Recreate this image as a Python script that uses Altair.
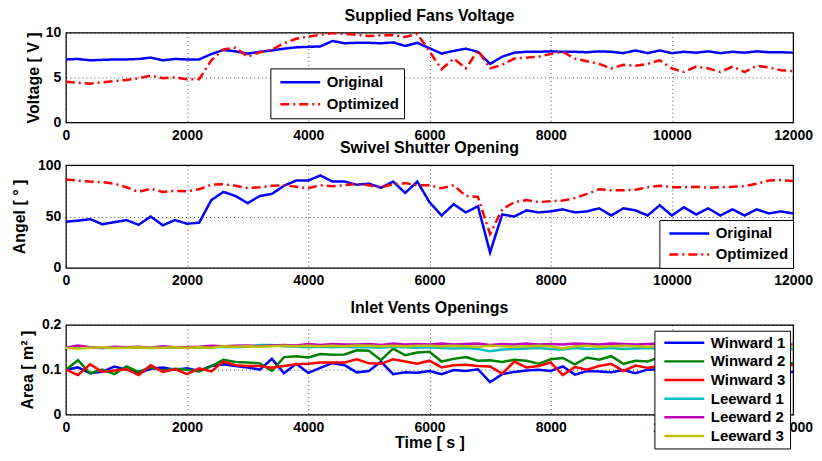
import altair as alt
import pandas as pd

# ---------------- data ----------------
time_s = list(range(0, 12001, 200))  # sampling instants [s]
x_ticks = [0, 2000, 4000, 6000, 8000, 10000, 12000]

fan_original = [
    7.0, 7.05, 6.9, 6.95, 7.0, 7.0, 7.05, 7.2, 6.9, 7.05,
    7.0, 7.0, 7.6, 8.05, 7.9, 7.65, 7.85, 8.0, 8.2, 8.35,
    8.4, 8.45, 9.05, 8.8, 8.85, 8.85, 8.8, 8.9, 8.5, 8.85,
    8.25, 7.65, 7.95, 8.2, 7.85, 6.5, 7.3, 7.75, 7.85, 7.85,
    7.9, 7.85, 7.85, 7.8, 7.9, 7.85, 7.7, 8.0, 7.7, 8.0,
    7.7, 7.85, 7.75, 7.9, 7.7, 7.85, 7.75, 7.9, 7.8, 7.8,
    7.75]
fan_optimized = [
    4.5, 4.4, 4.3, 4.45, 4.6, 4.7, 4.9, 5.2, 4.9, 5.0,
    4.8, 4.8, 6.9, 8.1, 8.3, 7.3, 7.8, 8.1, 8.8, 9.3,
    9.55, 9.75, 9.95, 9.85, 9.75, 9.6, 9.7, 9.7, 9.5, 9.85,
    7.9, 5.9, 7.1, 6.0, 8.0, 6.0, 6.4, 7.1, 7.2, 7.3,
    7.6, 7.85, 7.1, 6.8, 6.5, 6.0, 6.4, 6.3, 6.5, 6.9,
    6.0, 5.6, 6.2, 6.0, 5.6, 6.2, 5.6, 6.3, 6.1, 5.8,
    5.7]

shutter_original = [
    45, 46, 47.5, 42.5, 44.5, 46.5, 42, 50, 41.5, 46.5,
    43, 44, 66, 74, 70, 63, 70, 72, 80, 85,
    85, 90, 84, 84, 81, 82, 78, 84, 73, 84,
    64, 51, 62, 54, 60, 15, 52, 50, 56, 54,
    55, 57, 54, 55, 58, 51, 58, 56, 51, 61,
    51, 59, 52, 58, 51, 57, 51, 57, 53, 55,
    53]
shutter_optimized = [
    86, 85, 84, 83.5, 82, 78.5, 74, 77, 74, 75,
    74.5, 76.5, 81, 81.5, 80, 77.7, 78.5, 80, 80.5, 79,
    77.5, 80.5, 79.5, 80.5, 81.5, 80.5, 78.5, 81.5, 82.5, 80.5,
    80.5, 77.5, 80.5, 70, 69, 33, 57, 64, 66, 64,
    65, 65.5, 68, 72, 76.5, 75.5, 75.5, 76, 78.5, 80,
    78.5, 78.5, 79, 78, 78.5, 79, 79.5, 82, 85, 85.5,
    84.5]

winward_1 = [
    0.100, 0.105, 0.092, 0.095, 0.107, 0.100, 0.092, 0.102, 0.105, 0.100,
    0.103, 0.097, 0.108, 0.112, 0.108, 0.105, 0.100, 0.124, 0.092, 0.113,
    0.093, 0.104, 0.115, 0.110, 0.094, 0.097, 0.118, 0.090, 0.094, 0.093,
    0.097, 0.090, 0.099, 0.097, 0.101, 0.072, 0.090, 0.095, 0.098, 0.100,
    0.097, 0.107, 0.089, 0.097, 0.096, 0.094, 0.099, 0.092, 0.100, 0.101,
    0.097, 0.102, 0.096, 0.100, 0.098, 0.103, 0.096, 0.100, 0.098, 0.096,
    0.095]
winward_2 = [
    0.100, 0.121, 0.092, 0.100, 0.090, 0.107, 0.095, 0.105, 0.098, 0.102,
    0.100, 0.096, 0.108, 0.122, 0.117, 0.116, 0.114, 0.097, 0.128, 0.130,
    0.127, 0.135, 0.133, 0.134, 0.143, 0.142, 0.121, 0.147, 0.132, 0.138,
    0.140, 0.118, 0.124, 0.128, 0.120, 0.121, 0.117, 0.122, 0.120, 0.113,
    0.123, 0.126, 0.112, 0.127, 0.122, 0.130, 0.113, 0.120, 0.118, 0.128,
    0.120, 0.125, 0.118, 0.122, 0.116, 0.124, 0.118, 0.121, 0.117, 0.115,
    0.114]
winward_3 = [
    0.100, 0.088, 0.112, 0.095, 0.098, 0.101, 0.088, 0.110, 0.095, 0.101,
    0.090, 0.103, 0.096, 0.118, 0.110, 0.108, 0.108, 0.104, 0.108, 0.112,
    0.113, 0.116, 0.116, 0.116, 0.123, 0.114, 0.113, 0.123, 0.118, 0.113,
    0.120, 0.105, 0.110, 0.111, 0.108, 0.107, 0.091, 0.118, 0.105, 0.108,
    0.116, 0.088, 0.106, 0.100, 0.108, 0.113, 0.097, 0.109, 0.104, 0.108,
    0.112, 0.105, 0.110, 0.106, 0.112, 0.107, 0.110, 0.105, 0.111, 0.109,
    0.110]
leeward_1 = [
    0.150, 0.149, 0.150, 0.148, 0.150, 0.149, 0.150, 0.148, 0.150, 0.149,
    0.150, 0.149, 0.150, 0.151, 0.150, 0.151, 0.155, 0.155, 0.152, 0.151,
    0.150, 0.151, 0.150, 0.151, 0.150, 0.150, 0.149, 0.151, 0.150, 0.149,
    0.150, 0.148, 0.147, 0.148, 0.146, 0.141, 0.145, 0.146, 0.147, 0.148,
    0.146, 0.145, 0.148, 0.146, 0.147, 0.148, 0.146, 0.147, 0.148, 0.146,
    0.147, 0.148, 0.147, 0.146, 0.148, 0.147, 0.146, 0.147, 0.148, 0.147,
    0.146]
leeward_2 = [
    0.149, 0.154, 0.150, 0.148, 0.151, 0.150, 0.151, 0.149, 0.152, 0.150,
    0.150, 0.151, 0.153, 0.152, 0.153, 0.154, 0.152, 0.154, 0.155, 0.154,
    0.157, 0.155, 0.157, 0.156, 0.156, 0.157, 0.155, 0.158, 0.156, 0.157,
    0.156, 0.158, 0.156, 0.157, 0.158, 0.155, 0.157, 0.156, 0.158, 0.156,
    0.157, 0.156, 0.158, 0.157, 0.156, 0.158, 0.157, 0.156, 0.157, 0.158,
    0.157, 0.156, 0.157, 0.158, 0.156, 0.157, 0.156, 0.157, 0.158, 0.157,
    0.156]
leeward_3 = [
    0.148, 0.147, 0.149, 0.150, 0.148, 0.149, 0.150, 0.148, 0.149, 0.150,
    0.148, 0.150, 0.149, 0.152, 0.151, 0.152, 0.151, 0.152, 0.153, 0.152,
    0.153, 0.152, 0.153, 0.152, 0.154, 0.153, 0.152, 0.153, 0.152, 0.153,
    0.153, 0.152, 0.153, 0.152, 0.151, 0.153, 0.152, 0.151, 0.152, 0.153,
    0.152, 0.147, 0.152, 0.153, 0.151, 0.152, 0.153, 0.152, 0.151, 0.152,
    0.153, 0.152, 0.151, 0.152, 0.153, 0.152, 0.151, 0.152, 0.153, 0.152,
    0.152]

two_series = ["Original", "Optimized"]
vent_series = ["Winward 1", "Winward 2", "Winward 3", "Leeward 1", "Leeward 2", "Leeward 3"]
vent_colors = ["#0000ff", "#008000", "#ff0000", "#00bfbf", "#bf00bf", "#bfbf00"]

# ---------------- tables ----------------
n = len(time_s)
df_fan = pd.DataFrame({"t": time_s * 2, "v": fan_original + fan_optimized,
                       "s": ["Original"] * n + ["Optimized"] * n})
df_shutter = pd.DataFrame({"t": time_s * 2, "v": shutter_original + shutter_optimized,
                           "s": ["Original"] * n + ["Optimized"] * n})
vent_values = [winward_1, winward_2, winward_3, leeward_1, leeward_2, leeward_3]
df_vent = pd.DataFrame({
    "t": time_s * 6,
    "v": sum(vent_values, []),
    "s": sum([[name] * n for name in vent_series], []),
    "o": sum([[i] * n for i in range(6)], []),
})

FONT = "Liberation Sans"
W = 729

xscale = alt.Scale(domain=[0, 12000], nice=False)


def xaxis(title=None, **kw):
    return alt.Axis(values=x_ticks, format="d", title=title, labelFlush=False,
                    labelPadding=6, **kw)


def two_color(legend):
    return alt.Color("s:N", scale=alt.Scale(domain=two_series, range=["#0000ff", "#ff0000"]),
                     legend=legend, sort=two_series)


def two_dash(legend):
    return alt.StrokeDash("s:N", scale=alt.Scale(domain=two_series, range=[[1, 0], [9, 4, 2, 4]]),
                          legend=legend, sort=two_series)


leg1 = alt.Legend(title=None, orient="none", legendX=205, legendY=36, clipHeight=20, rowPadding=2)
p1 = alt.Chart(df_fan, title=alt.TitleParams("Supplied Fans Voltage", offset=2)).mark_line(
    strokeWidth=2.5, clip=True).encode(
    x=alt.X("t:Q", scale=xscale, axis=xaxis()),
    y=alt.Y("v:Q", scale=alt.Scale(domain=[0, 10], nice=False),
            axis=alt.Axis(values=[0, 5, 10], title="Voltage [ V ]", titlePadding=4)),
    color=two_color(leg1),
    strokeDash=two_dash(leg1),
).properties(width=W, height=90)

leg2 = alt.Legend(title=None, orient="bottom-right", offset=0, clipHeight=19, rowPadding=2)
p2 = alt.Chart(df_shutter, title=alt.TitleParams("Swivel Shutter Opening", offset=2)).mark_line(
    strokeWidth=2.5, clip=True).encode(
    x=alt.X("t:Q", scale=xscale, axis=xaxis(title=" ", titlePadding=0, titleFontSize=14)),
    y=alt.Y("v:Q", scale=alt.Scale(domain=[0, 100], nice=False),
            axis=alt.Axis(values=[0, 50, 100], title="Angel [ ° ]", titlePadding=10.5)),
    color=two_color(leg2),
    strokeDash=two_dash(leg2),
).properties(width=W, height=103)

leg3 = alt.Legend(title=None, orient="none", legendX=590, legendY=6, clipHeight=16, rowPadding=2.7)
p3 = alt.Chart(df_vent, title=alt.TitleParams("Inlet Vents Openings", offset=2)).mark_line(
    strokeWidth=2.5, clip=True).encode(
    x=alt.X("t:Q", scale=xscale, axis=xaxis(title="Time [ s ]", titlePadding=0)),
    y=alt.Y("v:Q", scale=alt.Scale(domain=[0, 0.2], nice=False),
            axis=alt.Axis(values=[0, 0.1, 0.2], format="~g", title="Area [ m² ]", titlePadding=5.5)),
    color=alt.Color("s:N", scale=alt.Scale(domain=vent_series, range=vent_colors),
                    sort=vent_series, legend=leg3),
    order=alt.Order("o:Q"),
).properties(width=W, height=90)

chart = alt.vconcat(p1, p2, p3, spacing=-4).resolve_scale(
    color="independent", strokeDash="independent"
).resolve_legend(
    color="independent", strokeDash="independent"
).properties(
    padding={"left": 2, "top": -2, "right": 0, "bottom": 0}
).configure(
    font=FONT, background="white"
).configure_axis(
    labelFontSize=14, labelFontWeight="bold", labelColor="black", labelPadding=5,
    titleFontSize=16, titleFontWeight="bold", titleColor="black",
    grid=True, gridColor="black", gridDash=[1, 3], gridOpacity=0.7, gridWidth=1,
    domain=False, ticks=False,
).configure_view(
    stroke="black", strokeWidth=1.2
).configure_title(
    fontSize=16, fontWeight="bold", color="black", anchor="middle"
).configure_legend(
    labelFontSize=15, labelFontWeight="bold", labelColor="black",
    symbolType="stroke", symbolSize=1600, symbolStrokeWidth=2.5,
    symbolOffset=4.5, labelOffset=5, padding=4,
    fillColor="white", strokeColor="black", strokeWidth=1,
)

chart.save("out.html", embed_options={"renderer": "svg", "actions": False})
